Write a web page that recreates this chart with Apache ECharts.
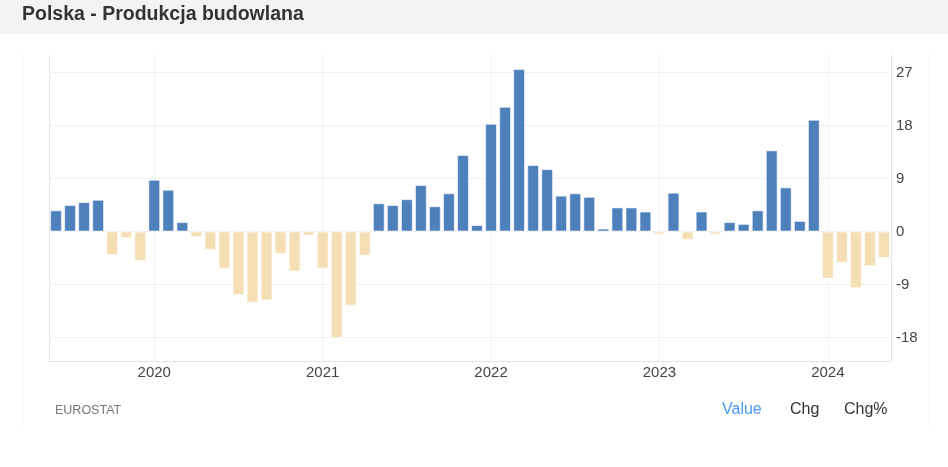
<!DOCTYPE html>
<html>
<head>
<meta charset="utf-8">
<script src="https://cdn.jsdelivr.net/npm/echarts@6/dist/echarts.min.js"></script>
<style>
  html, body { margin: 0; padding: 0; background: #fff; }
  #chart { width: 948px; height: 467px; }
</style>
</head>
<body>
<div id="chart"></div>
<script>
// miesiące od 2019-06 do 2024-05
const months = [
  '2019-06', '2019-07', '2019-08', '2019-09', '2019-10', '2019-11', '2019-12',
  '2020-01', '2020-02', '2020-03', '2020-04', '2020-05', '2020-06', '2020-07', '2020-08', '2020-09', '2020-10', '2020-11', '2020-12',
  '2021-01', '2021-02', '2021-03', '2021-04', '2021-05', '2021-06', '2021-07', '2021-08', '2021-09', '2021-10', '2021-11', '2021-12',
  '2022-01', '2022-02', '2022-03', '2022-04', '2022-05', '2022-06', '2022-07', '2022-08', '2022-09', '2022-10', '2022-11', '2022-12',
  '2023-01', '2023-02', '2023-03', '2023-04', '2023-05', '2023-06', '2023-07', '2023-08', '2023-09', '2023-10', '2023-11', '2023-12',
  '2024-01', '2024-02', '2024-03', '2024-04', '2024-05'
];

// produkcja budowlana r/r, %
const values = [
  3.6, 4.5, 5.0, 5.4, -4.0, -1.1, -5.0,
  8.8, 7.1, 1.6, -0.9, -3.1, -6.3, -10.8, -12.1, -11.7, -3.8, -6.8, -0.7,
  -6.3, -18.1, -12.6, -4.1, 4.8, 4.5, 5.5, 7.9, 4.3, 6.5, 13.0, 1.1,
  18.3, 21.2, 27.6, 11.3, 10.6, 6.1, 6.5, 5.9, 0.5, 4.1, 4.1, 3.4,
  -0.5, 6.6, -1.4, 3.4, -0.5, 1.6, 1.3, 3.6, 13.8, 7.5, 1.8, 19.0,
  -8.0, -5.3, -9.6, -5.9, -4.5
];

const yTicks = [-18, -9, 0, 9, 18, 27];
const footerTabs = ['Value', 'Chg', 'Chg%'];

const FONT = 'Arial, "Liberation Sans", sans-serif';
const gridColor = '#e4e4e4';

const chart = echarts.init(document.getElementById('chart'));

const isJan = function (idx, val) { return String(val).slice(5) === '01'; };

chart.setOption({
  animation: false,
  textStyle: { fontFamily: FONT },
  title: {
    text: 'Polska - Produkcja budowlana',
    left: 17,
    top: 0,
    textStyle: { fontSize: 19.5, fontWeight: 'bold', color: '#333', fontFamily: FONT }
  },
  grid: { left: 49, right: 57, top: 55, bottom: 106 },
  xAxis: {
    type: 'category',
    data: months,
    boundaryGap: true,
    axisLine: { onZero: false, lineStyle: { color: gridColor } },
    axisTick: { show: false },
    axisLabel: {
      interval: isJan,
      formatter: function (v) { return v.slice(0, 4); },
      fontSize: 15,
      color: '#444',
      margin: 4
    },
    splitLine: {
      show: true,
      interval: isJan,
      alignWithLabel: true,
      lineStyle: { color: gridColor, type: 'dotted' }
    }
  },
  yAxis: [
    {
      type: 'value',
      position: 'right',
      min: -22,
      max: 30,
      axisLine: { show: true, lineStyle: { color: gridColor } },
      axisTick: { show: false, customValues: yTicks },
      axisLabel: { customValues: yTicks, fontSize: 15, color: '#444', margin: 5 },
      splitLine: { show: true, lineStyle: { color: gridColor, type: 'dotted' } }
    },
    {
      type: 'value',
      position: 'left',
      min: -22,
      max: 30,
      axisLine: { show: true, lineStyle: { color: gridColor } },
      axisTick: { show: false },
      axisLabel: { show: false },
      splitLine: { show: false }
    }
  ],
  series: [{
    type: 'bar',
    data: values,
    barCategoryGap: '16%',
    itemStyle: {
      color: function (p) { return p.value >= 0 ? '#4e80bc' : '#f5deb3'; },
      borderColor: 'rgba(255,255,255,0.55)',
      borderWidth: 1
    }
  }],
  graphic: [
    { type: 'rect', z: -10, shape: { x: 0, y: 0, width: 948, height: 34 }, style: { fill: '#f3f3f3' } },
    { type: 'line', shape: { x1: 23, y1: 55, x2: 23, y2: 426 }, style: { stroke: '#f2f2f2', lineWidth: 1 } },
    { type: 'line', shape: { x1: 929, y1: 55, x2: 929, y2: 426 }, style: { stroke: '#f2f2f2', lineWidth: 1 } },
    { type: 'text', left: 55, top: 404, style: { text: 'EUROSTAT', fontSize: 12.5, fill: '#777', fontFamily: FONT } },
    { type: 'text', left: 722, top: 402, style: { text: footerTabs[0], fontSize: 16, fill: '#4a9af5', fontFamily: FONT } },
    { type: 'text', left: 790, top: 402, style: { text: footerTabs[1], fontSize: 16, fill: '#333', fontFamily: FONT } },
    { type: 'text', left: 844, top: 402, style: { text: footerTabs[2], fontSize: 16, fill: '#333', fontFamily: FONT } }
  ]
});
</script>
</body>
</html>
